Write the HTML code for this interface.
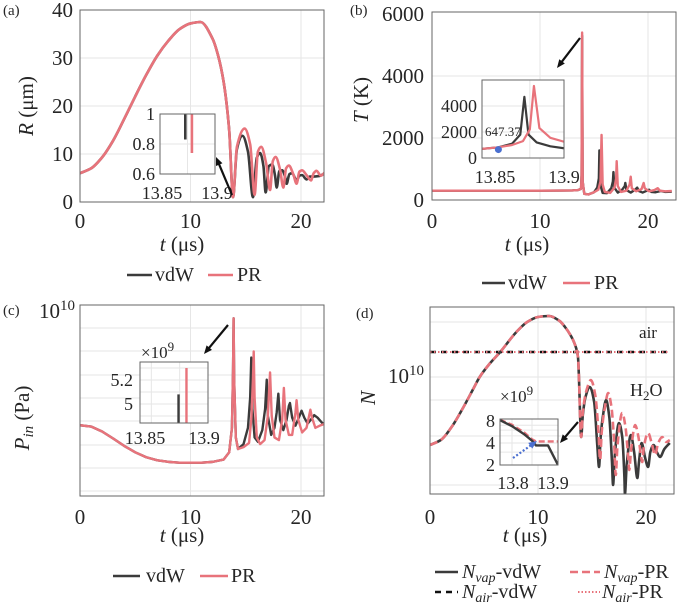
<!DOCTYPE html>
<html><head><meta charset="utf-8"><style>
html,body{margin:0;padding:0;background:#fff;}
svg, svg text{font-family:"Liberation Serif","Times New Roman","DejaVu Serif",serif;}
</style></head><body>
<svg id="fig" width="679" height="605" viewBox="0 0 679 605" xmlns="http://www.w3.org/2000/svg" font-family="Liberation Serif, Times New Roman, serif"></svg>
<script>
// ---------- DATA ----------
// (a) R (um) vs t (us)
const aPreT=[0,1,2,3,4,5,6,7,8,9,10,10.9,12,12.5,13,13.5,13.85];
const aPreR=[6,7,9.3,12.8,17.3,22,26.5,30.5,33.6,36,37.2,37.5,34,30.5,25,15,1];
const aVdwT=[14.2,14.7,15.2,15.65,16.0,16.3,16.6,16.8,17.1,17.4,17.65,17.8,18.05,18.3,18.55,18.7,18.95,19.2,19.45,19.6,19.85,20.1,20.5,20.8,21.1,21.6,22.2];
const aVdwR=[11,13.8,10.5,1.0,9.2,10.2,7.5,2.0,7.5,7.8,5.5,3.0,6.5,6.6,5.3,3.8,5.8,6.0,5.0,4.3,5.5,5.6,4.7,5.3,5.3,5.4,6.0];
const aPrT=[14.2,14.9,15.4,15.8,16.1,16.4,16.85,17.2,17.45,17.7,18.1,18.4,18.65,18.9,19.3,19.6,19.85,20.1,20.5,20.9,21.15,21.4,21.8,22.2];
const aPrR=[11.5,15.3,12.0,1.5,10.5,11.5,8.0,2.5,8.5,9.4,6.8,3.0,7.0,7.6,5.8,3.8,6.3,6.6,5.6,4.5,6.0,6.5,5.5,6.3];
const aTicksY=[0,10,20,30,40];
const xTicks=[0,10,20];
const aInsetT=[13.873,13.879];
const aInsetR=[0.83,0.74];
const aInsetTicks=[0.6,0.8,1];

// (b) T (K)
const bPreT=[0,2,4,6,8,10,12,13,13.5,13.8,13.85];
const bPreV=[300,300,300,300,300,300,305,310,320,360,800];
const bVdwT=[13.9,13.95,14.1,14.5,15.0,15.3,15.45,15.5,15.58,15.8,16.2,16.6,16.75,16.8,16.88,17.2,17.6,17.85,17.9,18.0,18.4,18.8,19.0,19.15,19.5,19.9,20.1,20.3,20.7,21.2,21.6,22.2];
const bVdwV=[5300,600,200,180,250,400,700,1600,500,230,220,380,600,900,400,240,330,450,550,320,240,330,400,290,240,300,330,260,250,290,260,270];
const bPrT=[13.9,13.95,14.1,14.5,15.0,15.4,15.6,15.7,15.8,16.0,16.5,16.9,17.05,17.1,17.2,17.5,18.0,18.3,18.4,18.5,18.9,19.4,19.6,19.7,20.1,20.6,20.9,21.1,21.6,22.2];
const bPrV=[5400,600,200,180,250,330,600,2100,500,260,230,400,700,1250,450,260,300,500,750,380,280,350,550,380,280,320,380,300,280,290];
const bTicksY=[0,2000,4000,6000];
const bInVdwT=[13.84,13.852,13.862,13.868,13.871,13.874,13.88,13.89,13.9];
const bInVdwV=[700,820,1100,1800,4700,1800,1200,900,750];
const bInPrT=[13.84,13.852,13.862,13.87,13.875,13.878,13.882,13.89,13.9];
const bInPrV=[700,820,1000,1300,2200,5540,2300,1550,1250];
const bInTicks=[0,2000,4000];
const bCritT=13.852, bCritV=647.37;

// (c) P_in (units 1e9 Pa)
const cPreT=[0,1,2,3,4,5,6,7,8,9,10,11,12,13,13.5,13.75,13.85,13.9,13.95,14.1,14.3];
const cPreP=[1.36,1.33,1.22,1.08,0.95,0.85,0.78,0.74,0.72,0.71,0.71,0.71,0.72,0.75,0.85,1.3,3.5,8.7,3.0,1.1,0.9];
const cVdwT=[14.8,15.2,15.4,15.5,15.6,15.8,16.1,16.5,16.75,16.9,17.0,17.3,17.6,17.8,17.95,18.1,18.4,18.7,18.9,19.0,19.2,19.5,19.8,20.05,20.3,20.6,20.9,21.2,21.5,21.9,22.2];
const cVdwP=[0.98,1.3,2.2,4.4,1.8,1.1,1.02,1.25,1.8,3.0,1.6,1.15,1.3,1.7,2.35,1.5,1.25,1.5,1.9,2.0,1.55,1.35,1.55,1.75,1.55,1.4,1.5,1.62,1.55,1.42,1.36];
const cPrT=[14.8,15.3,15.5,15.65,15.72,15.8,16.0,16.3,16.7,17.0,17.2,17.35,17.6,18.0,18.3,18.45,18.6,18.9,19.2,19.5,19.6,19.75,20.1,20.5,20.85,21.0,21.3,21.7,22.2];
const cPrP=[0.93,1.0,1.5,3.0,4.9,2.2,1.1,0.98,1.05,1.6,3.4,1.6,1.1,1.05,1.5,2.6,1.5,1.15,1.15,1.7,2.1,1.5,1.2,1.3,1.78,1.55,1.3,1.35,1.4];
const cInsetT=[13.874,13.881];
const cInsetP=[5.08,5.3];
const cInsetTicks=[5,5.2];

// (d) N, stored as log10(N)
const dPreT=[0,1,2,3,4,4.6,5.5,6.5,8,9,10,11,12,12.5,13,13.4,13.7,13.85,13.9,14.0];
const dPreLog=[9.32,9.37,9.5,9.68,9.88,10.0,10.13,10.25,10.45,10.55,10.6,10.61,10.56,10.5,10.42,10.33,10.2,9.8,9.6,9.4];
const dVdwT=[14.15,14.4,14.8,15.2,15.5,15.65,15.8,16.0,16.3,16.6,16.85,16.95,17.1,17.5,17.8,18.0,18.05,18.2,18.6,18.9,19.2,19.35,19.6,19.9,20.2,20.4,20.7,21.0,21.3,21.7,22.2];
const dVdwLog=[9.62,9.8,9.9,9.75,9.3,9.1,9.4,9.6,9.77,9.6,9.15,8.92,9.2,9.54,9.4,9.0,8.83,9.1,9.42,9.25,8.99,9.15,9.34,9.2,9.1,9.25,9.32,9.25,9.2,9.28,9.34];
const dPrT=[14.15,14.5,14.9,15.3,15.6,15.75,15.9,16.2,16.5,16.8,17.05,17.2,17.35,17.8,18.1,18.35,18.45,18.6,19.0,19.3,19.55,19.65,19.8,20.2,20.5,20.85,21.1,21.5,21.9,22.2];
const dPrLog=[9.65,9.87,9.97,9.82,9.45,9.17,9.45,9.7,9.84,9.7,9.35,9.02,9.3,9.64,9.5,9.2,9.07,9.25,9.52,9.4,9.2,9.15,9.3,9.44,9.35,9.22,9.33,9.4,9.35,9.37];
const dAirT=[0,22.2];
const dAirLog=[10.25,10.25];
const dInVdwT=[13.77,13.8,13.83,13.85,13.86,13.89,13.915];
const dInVdwV=[8.2,6.8,5.3,4.3,3.7,3.7,2.0];
const dInPrT=[13.77,13.8,13.83,13.85,13.86,13.915];
const dInPrV=[8.3,7.1,5.6,4.5,4.2,4.2];
const dInTicks=[2,4,8];

// ---------- DRAW HELPERS ----------
const NS="http://www.w3.org/2000/svg";
const svg=document.getElementById('fig');
const FONT='"Liberation Serif","Times New Roman",serif';
const DARK="#3b3b3b", RED="#e8737b", GRID="#e6e6e6", AX="#666";
function el(tag,attrs,parent){const e=document.createElementNS(NS,tag);for(const k in attrs)e.setAttribute(k,attrs[k]);(parent||svg).appendChild(e);return e;}
function txt(x,y,s,size,anchor,name,parent){const t=el('text',{x:x,y:y,'font-size':size,'text-anchor':anchor||'middle',fill:'#262626','font-family':FONT},parent);t.textContent=s;


return t;}
// monotone cubic interpolation path (no overshoot)
function monoPath(pts){const n=pts.length;const dx=[],m=[],s=[];for(let i=0;i<n-1;i++){dx[i]=pts[i+1][0]-pts[i][0];s[i]=(pts[i+1][1]-pts[i][1])/dx[i];}
m[0]=s[0];m[n-1]=s[n-2];for(let i=1;i<n-1;i++){if(s[i-1]*s[i]<=0)m[i]=0;else{const w1=2*dx[i]+dx[i-1],w2=dx[i]+2*dx[i-1];m[i]=(w1+w2)/(w1/s[i-1]+w2/s[i]);}}
let d='M'+pts[0][0].toFixed(2)+','+pts[0][1].toFixed(2);for(let i=0;i<n-1;i++){const h=dx[i]/3;d+=' C'+(pts[i][0]+h).toFixed(2)+','+(pts[i][1]+m[i]*h).toFixed(2)+' '+(pts[i+1][0]-h).toFixed(2)+','+(pts[i+1][1]-m[i+1]*h).toFixed(2)+' '+pts[i+1][0].toFixed(2)+','+pts[i+1][1].toFixed(2);}return d;}
function series(ts,vs,xf,yf,color,w,dash,smooth,name,parent){const pts=ts.map((t,i)=>[xf(t),yf(vs[i])]);const d=smooth?monoPath(pts):'M'+pts.map(p=>p[0].toFixed(2)+','+p[1].toFixed(2)).join(' L');const p=el('path',{d:d,fill:'none',stroke:color,'stroke-width':w,'stroke-linejoin':'round','stroke-dasharray':dash||'none'},parent);


return p;}
function box(x0,y0,x1,y1,name){const r=el('rect',{x:x0,y:y0,width:x1-x0,height:y1-y0,fill:'none',stroke:AX,'stroke-width':1});

}
function gl(x1,y1,x2,y2){el('line',{x1:x1,y1:y1,x2:x2,y2:y2,stroke:GRID,'stroke-width':1});}
function arrow(x1,y1,x2,y2,name,color,dash){const g=el('g',{});


const a=Math.atan2(y2-y1,x2-x1),L=9;el('line',{x1:x1,y1:y1,x2:x2-Math.cos(a)*5,y2:y2-Math.sin(a)*5,stroke:color||'#111','stroke-width':2.2,'stroke-dasharray':dash||'none'},g);
el('polygon',{points:`${x2},${y2} ${x2-L*Math.cos(a-0.4)},${y2-L*Math.sin(a-0.4)} ${x2-L*Math.cos(a+0.4)},${y2-L*Math.sin(a+0.4)}`,fill:color||'#111'},g);}
function clip(id,x0,y0,x1,y1){const c=el('clipPath',{id:id});el('rect',{x:x0,y:y0,width:x1-x0,height:y1-y0},c);const g=el('g',{'clip-path':'url(#'+id+')'});return g;}
function legendLine(x1,x2,y,color,dash,name,w){const l=el('line',{x1:x1,y1:y,x2:x2,y2:y,stroke:color,'stroke-width':w||2.6,'stroke-dasharray':dash||'none'});

}

// ---------- PANEL A ----------
(function(){
const X0=80,X1=324,Y0=10,Y1=202;
const xa=t=>80+t*11.05, ya=r=>202-r*4.8;
aTicksY.slice(1,4).forEach(v=>gl(X0,ya(v),X1,ya(v)));
xTicks.slice(1).forEach(v=>gl(xa(v),Y0,xa(v),Y1));
const g=clip('ca',X0,Y0,X1,Y1);
series(aPreT.concat(aVdwT),aPreR.concat(aVdwR),xa,ya,DARK,2.6,null,true,'r-vdw-line',g);
series(aPreT.concat(aPrT),aPreR.concat(aPrR),xa,ya,RED,2.6,null,true,'r-pr-line',g);
box(X0,Y0,X1,Y1,'axes-a');
aTicksY.forEach(v=>txt(73,ya(v)+7,String(v),21,'end','y-tick-a'));
xTicks.forEach(v=>txt(xa(v),228,String(v),21,'middle','x-tick-a'));
txt(3,15,'(a)',15,'start','panel-label-a');
const yl=txt(0,0,'',21,'middle','y-axis-title-a');yl.setAttribute('transform','translate(33,106) rotate(-90)');
yl.innerHTML='<tspan font-style="italic">R</tspan> (μm)';
const xl=txt(182,251,'',21,'middle','x-axis-title-a');xl.innerHTML='<tspan font-style="italic">t</tspan> (μs)';
const ix0=160,ix1=215,iy0=114,iy1=174;
el('rect',{x:ix0,y:iy0,width:ix1-ix0,height:iy1-iy0,fill:'#fff'});
const ixf=t=>ix0+(t-13.85)/0.05*(ix1-ix0), iyf=r=>iy1-(r-0.6)/0.4*(iy1-iy0);
gl(ix0,iyf(0.8),ix1,iyf(0.8));gl(ixf(13.875),iy0,ixf(13.875),iy1);
aInsetT.forEach((t,i)=>{const l=el('line',{x1:ixf(t),y1:iy0,x2:ixf(t),y2:iyf(aInsetR[i]),stroke:i?RED:DARK,'stroke-width':2.6});

});
box(ix0,iy0,ix1,iy1,'inset-a-axes');
aInsetTicks.forEach(v=>txt(155,iyf(v)+6,String(v),18,'end','inset-a-ytick'));
txt(162,199,'13.85',18,'middle','inset-a-xtick');txt(217,199,'13.9',18,'middle','inset-a-xtick');
arrow(232,195,216,157,'arrow-a');
legendLine(127,152,275,DARK,null,'legend-vdw-a');txt(155,281,'vdW',20,'start','legend-label-vdw-a');
legendLine(208,233,275,RED,null,'legend-pr-a');txt(237,281,'PR',20,'start','legend-label-pr-a');
})();

// ---------- PANEL B ----------
(function(){
const X0=432,X1=676,Y0=12,Y1=200;
const xb=t=>432+t*10.8, yb=v=>200-v*0.031;
bTicksY.slice(1,3).forEach(v=>gl(X0,yb(v),X1,yb(v)));
xTicks.slice(1).forEach(v=>gl(xb(v),Y0,xb(v),Y1));
const g=clip('cb',X0,Y0,X1,Y1);
series(bPreT.concat(bVdwT),bPreV.concat(bVdwV),xb,yb,DARK,2.4,null,false,'t-vdw-line',g);
series(bPreT.concat(bPrT),bPreV.concat(bPrV),xb,yb,RED,2.4,null,false,'t-pr-line',g);
box(X0,Y0,X1,Y1,'axes-b');
bTicksY.forEach(v=>txt(424,yb(v)+7,String(v),21,'end','y-tick-b'));
xTicks.forEach(v=>txt(xb(v),228,String(v),21,'middle','x-tick-b'));
txt(350,15,'(b)',15,'start','panel-label-b');
const yl=txt(0,0,'',21,'middle','y-axis-title-b');yl.setAttribute('transform','translate(368,100) rotate(-90)');
yl.innerHTML='<tspan font-style="italic">T</tspan> (K)';
const xl=txt(527,251,'',21,'middle','x-axis-title-b');xl.innerHTML='<tspan font-style="italic">t</tspan> (μs)';
const ix0=482,ix1=564,iy0=80,iy1=158;
el('rect',{x:ix0,y:iy0,width:ix1-ix0,height:iy1-iy0,fill:'#fff'});
const ixf=t=>ix0+(t-13.84)/0.06*(ix1-ix0), iyf=v=>iy1-v*0.013;
[2000,4000].forEach(v=>gl(ix0,iyf(v),ix1,iyf(v)));gl(ixf(13.875),iy0,ixf(13.875),iy1);
const ig=clip('cbi',ix0,iy0,ix1,iy1);
series(bInVdwT,bInVdwV,ixf,iyf,DARK,2.2,null,false,'inset-b-vdw',ig);
series(bInPrT,bInPrV,ixf,iyf,RED,2.2,null,false,'inset-b-pr',ig);
const dot=el('circle',{cx:ixf(bCritT),cy:iyf(bCritV),r:3.5,fill:'#4a6fd0'});


box(ix0,iy0,ix1,iy1,'inset-b-axes');
bInTicks.forEach(v=>txt(477,iyf(v)+6,String(v),18,'end','inset-b-ytick'));
txt(485,136,'647.37',13,'start','critical-temp-label');
txt(495,183,'13.85',18,'middle','inset-b-xtick');txt(564,183,'13.9',18,'middle','inset-b-xtick');
arrow(580,38,557,68,'arrow-b');
legendLine(482,505,283,DARK,null,'legend-vdw-b');txt(508,289,'vdW',20,'start','legend-label-vdw-b');
legendLine(563,590,283,RED,null,'legend-pr-b');txt(594,289,'PR',20,'start','legend-label-pr-b');
})();

// ---------- PANEL C ----------
(function(){
const X0=80,X1=324,Y0=305,Y1=496;
const xc=t=>80+t*11.05, yc=p=>496-(Math.log10(p*1e9)-8.6)/1.44*191;
[328,351,375,398,421,445,468,491].forEach(y=>gl(X0,y,X1,y));
xTicks.slice(1).forEach(v=>gl(xc(v),Y0,xc(v),Y1));
const g=clip('cc',X0,Y0,X1,Y1);
series(cPreT.concat(cVdwT),cPreP.concat(cVdwP),xc,yc,DARK,2.4,null,false,'pin-vdw-line',g);
series(cPreT.concat(cPrT),cPreP.concat(cPrP),xc,yc,RED,2.4,null,false,'pin-pr-line',g);
box(X0,Y0,X1,Y1,'axes-c');
const tl=txt(75,318,'',21,'end','y-tick-c');tl.innerHTML='10<tspan dy="-8" font-size="15">10</tspan>';
xTicks.forEach(v=>txt(xc(v),524,String(v),21,'middle','x-tick-c'));
txt(3,315,'(c)',15,'start','panel-label-c');
const yl=txt(0,0,'',21,'middle','y-axis-title-c');yl.setAttribute('transform','translate(29,418) rotate(-90)');
yl.innerHTML='<tspan font-style="italic">P<tspan font-size="15" dy="4">in</tspan></tspan><tspan dy="-4"> (Pa)</tspan>';
const xl=txt(182,542,'',21,'middle','x-axis-title-c');xl.innerHTML='<tspan font-style="italic">t</tspan> (μs)';
const ix0=140,ix1=208,iy0=362,iy1=423;
el('rect',{x:ix0,y:iy0,width:ix1-ix0,height:iy1-iy0,fill:'#fff'});
const ixf=t=>ix0+(t-13.84)/0.06*(ix1-ix0), iyf=p=>404-(p-5)*120;
[4.9,5,5.1,5.2,5.3].forEach(v=>gl(ix0,iyf(v),ix1,iyf(v)));[13.85,13.875].forEach(v=>gl(ixf(v),iy0,ixf(v),iy1));
cInsetT.forEach((t,i)=>{const l=el('line',{x1:ixf(t),y1:iy1,x2:ixf(t),y2:iyf(cInsetP[i]),stroke:i?RED:DARK,'stroke-width':2.4});

});
box(ix0,iy0,ix1,iy1,'inset-c-axes');
cInsetTicks.forEach(v=>txt(133,iyf(v)+6,String(v),18,'end','inset-c-ytick'));
const m=txt(141,358,'',17,'start','inset-c-multiplier');m.innerHTML='×10<tspan dy="-7" font-size="13">9</tspan>';
txt(145,444,'13.85',18,'middle','inset-c-xtick');txt(204,444,'13.9',18,'middle','inset-c-xtick');
arrow(228,325,204,354,'arrow-c');
legendLine(113,140,576,DARK,null,'legend-vdw-c');txt(146,582,'vdW',20,'start','legend-label-vdw-c');
legendLine(200,228,576,RED,null,'legend-pr-c');txt(231,582,'PR',20,'start','legend-label-pr-c');
})();

// ---------- PANEL D ----------
(function(){
const X0=430,X1=674,Y0=307,Y1=494;
const xd=t=>430+t*10.8, yd=lg=>377-(lg-10)*100;
[322,377,400,436,485].forEach(y=>gl(X0,y,X1,y));
xTicks.slice(1).forEach(v=>gl(xd(v),Y0,xd(v),Y1));
const g=clip('cd',X0,Y0,X1,Y1);
series(dAirT,dAirLog,xd,yd,'#111',2.6,'6 5',false,'nair-vdw-line',g);
series(dAirT,dAirLog,xd,yd,RED,2,'1.5 2.5',false,'nair-pr-line',g);
series(dPreT.concat(dVdwT),dPreLog.concat(dVdwLog),xd,yd,DARK,2.6,null,true,'nvap-vdw-line',g);
series(dPreT.concat(dPrT),dPreLog.concat(dPrLog),xd,yd,RED,2.6,'8 4',true,'nvap-pr-line',g);
box(X0,Y0,X1,Y1,'axes-d');
const tl=txt(424,383,'',21,'end','y-tick-d');tl.innerHTML='10<tspan dy="-8" font-size="15">10</tspan>';
xTicks.forEach(v=>txt(xd(v),524,String(v),21,'middle','x-tick-d'));
txt(356,318,'(d)',15,'start','panel-label-d');
const yl=txt(0,0,'',21,'middle','y-axis-title-d');yl.setAttribute('transform','translate(375,398) rotate(-90)');
yl.innerHTML='<tspan font-style="italic">N</tspan>';
const xl=txt(525,542,'',21,'middle','x-axis-title-d');xl.innerHTML='<tspan font-style="italic">t</tspan> (μs)';
txt(648,338,'air',17,'middle','air-label');
const h=txt(630,396,'',18,'start','h2o-label');h.innerHTML='H<tspan font-size="13" dy="4">2</tspan><tspan dy="-4">O</tspan>';
const ix0=500,ix1=558,iy0=419,iy1=465;
el('rect',{x:ix0,y:iy0,width:ix1-ix0,height:iy1-iy0,fill:'#fff'});
const ixf=t=>ix0+(t-13.77)/0.145*(ix1-ix0), iyf=v=>465-(Math.log2(v)-1)*22;
[3,4,5,6,7].forEach(v=>gl(ix0,iyf(v),ix1,iyf(v)));[13.8,13.85].forEach(v=>gl(ixf(v),iy0,ixf(v),iy1));
const ig=clip('cdi',ix0,iy0,ix1,iy1);
series(dInPrT,dInPrV,ixf,iyf,RED,2.4,'6 3',false,'inset-d-pr',ig);
series(dInVdwT,dInVdwV,ixf,iyf,DARK,2.4,null,false,'inset-d-vdw',ig);
box(ix0,iy0,ix1,iy1,'inset-d-axes');
dInTicks.forEach(v=>txt(495,iyf(v)+6,String(v),18,'end','inset-d-ytick'));
const m=txt(500,402,'',17,'start','inset-d-multiplier');m.innerHTML='×10<tspan dy="-7" font-size="13">9</tspan>';
txt(513,489,'13.8',18,'middle','inset-d-xtick');txt(553,489,'13.9',18,'middle','inset-d-xtick');
arrow(513,458,537,441,'inset-d-blue-arrow','#4a6fd0','2 2');
arrow(578,422,560,443,'arrow-d');
legendLine(435,458,572,DARK,null,'legend-nvap-vdw');
const l1=txt(462,578,'',20,'start','legend-label-nvap-vdw');l1.innerHTML='<tspan font-style="italic">N<tspan font-size="14" dy="4">vap</tspan></tspan><tspan dy="-4">-vdW</tspan>';
legendLine(570,600,572,RED,'8 4','legend-nvap-pr');
const l2=txt(604,578,'',20,'start','legend-label-nvap-pr');l2.innerHTML='<tspan font-style="italic">N<tspan font-size="14" dy="4">vap</tspan></tspan><tspan dy="-4">-PR</tspan>';
legendLine(435,458,592,'#111','6 5','legend-nair-vdw');
const l3=txt(462,598,'',20,'start','legend-label-nair-vdw');l3.innerHTML='<tspan font-style="italic">N<tspan font-size="14" dy="4">air</tspan></tspan><tspan dy="-4">-vdW</tspan>';
legendLine(578,600,592,RED,'1.5 2','legend-nair-pr',2);
const l4=txt(602,598,'',20,'start','legend-label-nair-pr');l4.innerHTML='<tspan font-style="italic">N<tspan font-size="14" dy="4">air</tspan></tspan><tspan dy="-4">-PR</tspan>';
})();
</script>
</body></html>
